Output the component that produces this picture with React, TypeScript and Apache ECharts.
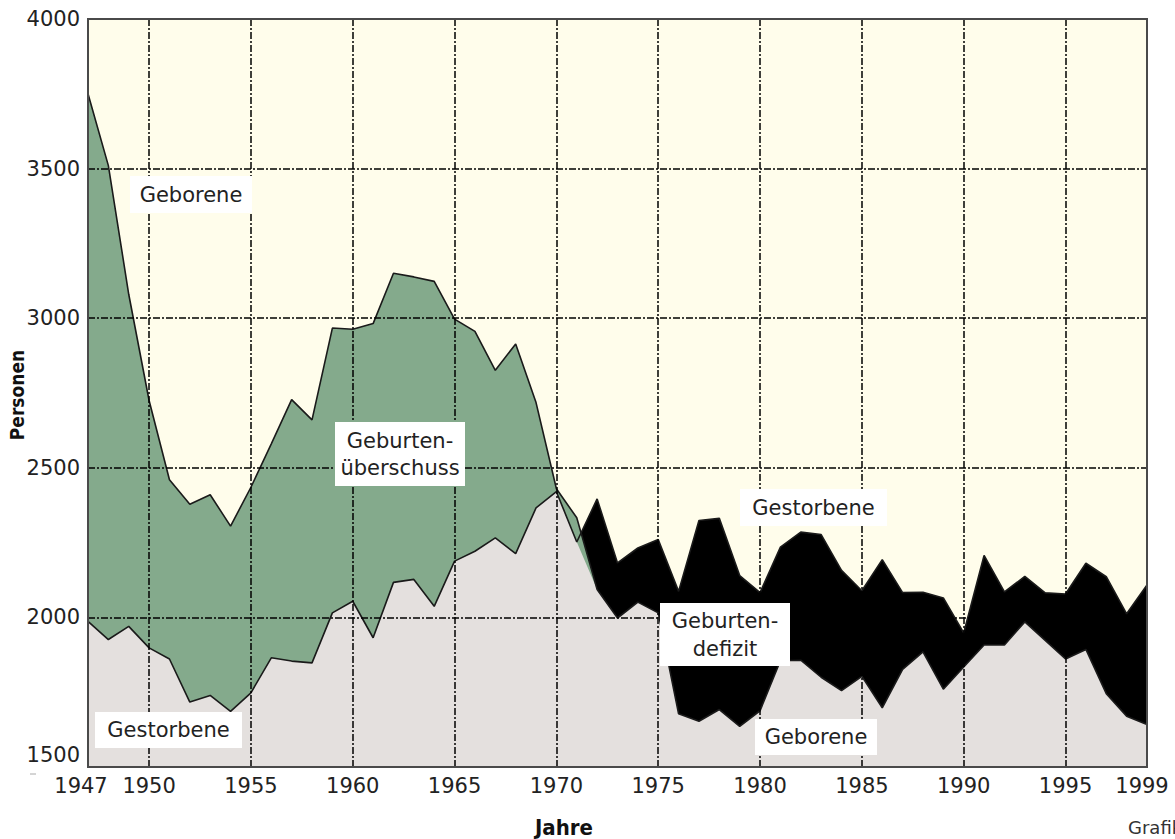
import React, { useEffect, useRef } from "react";
import * as echarts from "echarts";

const years = [
  1947, 1948, 1949, 1950, 1951, 1952, 1953, 1954, 1955, 1956, 1957, 1958, 1959,
  1960, 1961, 1962, 1963, 1964, 1965, 1966, 1967, 1968, 1969, 1970, 1971, 1972,
  1973, 1974, 1975, 1976, 1977, 1978, 1979, 1980, 1981, 1982, 1983, 1984, 1985,
  1986, 1987, 1988, 1989, 1990, 1991, 1992, 1993, 1994, 1995, 1996, 1997, 1998,
  1999,
];

// Geborene (births)
const geborene = [
  3750, 3510, 3080, 2725, 2460, 2378, 2410, 2305, 2435, 2580, 2728, 2660, 2967,
  2963, 2982, 3150, 3138, 3123, 2997, 2956, 2826, 2914, 2718, 2430, 2333, 2093,
  1998, 2051, 2015, 1678, 1653, 1692, 1636, 1688, 1855, 1857, 1800, 1755, 1803,
  1698, 1826, 1885, 1760, 1834, 1908, 1908, 1985, 1923, 1861, 1893, 1745, 1670,
  1642,
];

// Gestorbene (deaths)
const gestorbene = [
  1987, 1926, 1970, 1898, 1861, 1717, 1739, 1686, 1748, 1865, 1854, 1848, 2015,
  2054, 1932, 2117, 2127, 2037, 2188, 2221, 2266, 2213, 2366, 2420, 2252, 2396,
  2182, 2232, 2260, 2087, 2324, 2331, 2140, 2083, 2235, 2285, 2277, 2157, 2089,
  2193, 2083, 2084, 2065, 1948, 2207, 2085, 2137, 2082, 2078, 2181, 2136, 2012,
  2108,
];

const xTickLabels = [1947, 1950, 1955, 1960, 1965, 1970, 1975, 1980, 1985, 1990, 1995, 1999];
const xGridYears = [1950, 1955, 1960, 1965, 1970, 1975, 1980, 1985, 1990, 1995];
const yGridValues = [2000, 2500, 3000, 3500];

const FONT = "DejaVu Sans";

export default function App() {
  const ref = useRef<HTMLDivElement>(null);

  useEffect(() => {
    if (!ref.current) return;
    const chart = echarts.init(ref.current, undefined, { renderer: "svg" });

    const birthsData = years.map((y, i) => [y, geborene[i]]);
    const deathsData = years.map((y, i) => [y, gestorbene[i]]);
    const minData = years.map((y, i) => [y, Math.min(geborene[i], gestorbene[i])]);

    const areaSeries = (name: string, data: number[][], color: string) => ({
      name,
      type: "line",
      data,
      symbol: "none",
      silent: true,
      lineStyle: { width: 0 },
      areaStyle: { color, opacity: 1, origin: "start" },
    });

    const lineSeries = (name: string, data: number[][]) => ({
      name,
      type: "line",
      data,
      symbol: "none",
      silent: true,
      lineStyle: { width: 1.6, color: "#1a1a1a" },
    });

    const labelBox = (x: number, y: number, w: number, h: number, text: string, lh: number) => [
      {
        type: "rect",
        z: 100,
        shape: { x, y, width: w, height: h },
        style: { fill: "#ffffff" },
        silent: true,
      },
      {
        type: "text",
        z: 101,
        x: x + w / 2,
        y: y + h / 2,
        silent: true,
        style: {
          text,
          font: `21px ${FONT}`,
          fill: "#222222",
          textAlign: "center",
          textVerticalAlign: "middle",
          align: "center",
          verticalAlign: "middle",
          lineHeight: lh,
        },
      },
    ];

    const firstX = xTickLabels[0];
    const lastX = xTickLabels[xTickLabels.length - 1];

    const option = {
      animation: false,
      backgroundColor: "#ffffff",
      grid: {
        left: 88,
        top: 19,
        right: 28,
        bottom: 72,
        show: true,
        backgroundColor: "#fffdeb",
        borderWidth: 0,
      },
      xAxis: {
        type: "value",
        min: 1947,
        max: 1999,
        interval: 1,
        axisLine: { show: false },
        axisTick: { show: false },
        splitLine: { show: false },
        axisLabel: {
          fontSize: 21,
          fontFamily: FONT,
          color: "#222222",
          margin: 8,
          showMinLabel: true,
          showMaxLabel: true,
          formatter: (v: number) => {
            if (!xTickLabels.includes(v)) return "";
            if (v === firstX) return "{f|" + v + "}";
            if (v === lastX) return "{l|" + v + "}";
            return String(v);
          },
          rich: {
            f: { fontSize: 21, fontFamily: FONT, color: "#222222", padding: [0, 14, 0, 0] },
            l: { fontSize: 21, fontFamily: FONT, color: "#222222", padding: [0, 10, 0, 0] },
          },
        },
      },
      yAxis: {
        type: "value",
        min: 1500,
        max: 4000,
        interval: 500,
        axisLine: { show: false },
        axisTick: { show: false },
        splitLine: { show: false },
        axisLabel: {
          fontSize: 21,
          fontFamily: FONT,
          color: "#222222",
          margin: 8,
          formatter: (v: number) => (v === 1500 ? "{m|" + v + "}" : String(v)),
          rich: {
            m: { fontSize: 21, fontFamily: FONT, color: "#222222", padding: [0, 0, 24, 0] },
          },
        },
      },
      series: [
        areaSeries("Gestorbene-Fläche", deathsData, "#000000"),
        areaSeries("Geborene-Fläche", birthsData, "#84aa8c"),
        areaSeries("Minimum", minData, "#e4e0de"),
        {
          name: "Gitter",
          type: "line",
          data: [],
          silent: true,
          markLine: {
            silent: true,
            symbol: ["none", "none"],
            label: { show: false },
            emphasis: { disabled: true },
            lineStyle: { color: "#000000", width: 1.5, type: [7, 2, 2, 2] },
            data: [
              ...xGridYears.map((y) => ({ xAxis: y })),
              ...yGridValues.map((v) => ({ yAxis: v })),
            ],
          },
        },
        lineSeries("Geborene", birthsData),
        lineSeries("Gestorbene", deathsData),
      ],
      graphic: [
        {
          type: "rect",
          z: 99,
          silent: true,
          shape: { x: 88, y: 19, width: 1059, height: 748 },
          style: { fill: "none", stroke: "#4a4a4a", lineWidth: 2 },
        },
        ...labelBox(130, 176, 122, 37, "Geborene", 24),
        ...labelBox(95, 712, 147, 36, "Gestorbene", 24),
        ...labelBox(335, 422, 130, 64, "Geburten-\nüberschuss", 27),
        ...labelBox(740, 489, 147, 37, "Gestorbene", 24),
        ...labelBox(660, 603, 130, 63, "Geburten-\ndefizit", 28),
        ...labelBox(755, 719, 122, 36, "Geborene", 24),
        {
          type: "text",
          z: 101,
          x: 564,
          y: 827,
          silent: true,
          style: {
            text: "Jahre",
            font: `bold 22px "DejaVu Sans Condensed", ${FONT}`,
            fill: "#111111",
            textAlign: "center",
            textVerticalAlign: "middle",
            align: "center",
            verticalAlign: "middle",
          },
        },
        {
          type: "text",
          z: 101,
          x: 17,
          y: 395,
          rotation: Math.PI / 2,
          silent: true,
          style: {
            text: "Personen",
            font: `bold 19px "DejaVu Sans Condensed", ${FONT}`,
            fill: "#111111",
            textAlign: "center",
            textVerticalAlign: "middle",
            align: "center",
            verticalAlign: "middle",
          },
        },
        {
          type: "text",
          z: 101,
          x: 1128,
          y: 827,
          silent: true,
          style: {
            text: "Grafik",
            font: `18px ${FONT}`,
            fill: "#333333",
            textAlign: "left",
            textVerticalAlign: "middle",
            align: "left",
            verticalAlign: "middle",
          },
        },
        {
          type: "line",
          z: 101,
          silent: true,
          shape: { x1: 30, y1: 774, x2: 36, y2: 774 },
          style: { stroke: "#aaaaaa", lineWidth: 1 },
        },
      ],
    };

    chart.setOption(option as any);
    return () => {
      chart.dispose();
    };
  }, []);

  return (
    <div
      ref={ref}
      style={{ position: "fixed", left: 0, top: 0, width: 1175, height: 839, background: "#ffffff" }}
    />
  );
}
